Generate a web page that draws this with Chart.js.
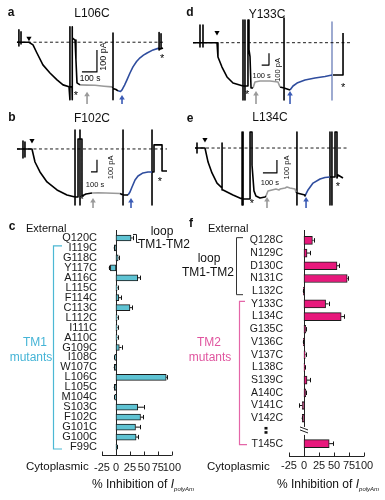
<!DOCTYPE html>
<html><head><meta charset="utf-8">
<script src="https://cdn.jsdelivr.net/npm/chart.js@4.4.1/dist/chart.umd.min.js"></script>
<style>
html,body{margin:0;padding:0;background:#fff;}
body{position:relative;width:385px;height:500px;overflow:hidden;font-family:"Liberation Sans",Arial,Helvetica,sans-serif;color:#111;}
canvas{position:absolute;}
.t{position:absolute;white-space:nowrap;line-height:1;transform:translate(-50%,-50%);}
.l{position:absolute;white-space:nowrap;line-height:1;transform:translateY(-50%);}
.pl{font-weight:bold;font-size:12px;}
.ti{font-size:12px;}
</style></head><body>
<canvas id="ca" width="190" height="104" style="left:0;top:0"></canvas>
<canvas id="cb" width="190" height="108" style="left:0;top:100px"></canvas>
<canvas id="cd" width="195" height="104" style="left:190px;top:0"></canvas>
<canvas id="ce" width="195" height="108" style="left:190px;top:100px"></canvas>
<canvas id="cc" width="190" height="295" style="left:0;top:205px"></canvas>
<canvas id="cf" width="195" height="295" style="left:190px;top:205px"></canvas>

<div class="t pl" style="left:11px;top:12px">a</div>
<div class="t ti" style="left:92px;top:13px">L106C</div>
<div class="t pl" style="left:190px;top:12px">d</div>
<div class="t ti" style="left:267px;top:14px">Y133C</div>
<div class="t pl" style="left:12px;top:117px">b</div>
<div class="t ti" style="left:92px;top:118px">F102C</div>
<div class="t pl" style="left:190px;top:118px">e</div>
<div class="t ti" style="left:270px;top:117px">L134C</div>

<div class="t pl" style="left:12px;top:226px">c</div>
<div class="l" style="left:26px;top:228px;font-size:11px">External</div>
<div class="t" style="left:162px;top:231px;font-size:12px">loop</div>
<div class="t" style="left:164px;top:244px;font-size:12px">TM1-TM2</div>
<div class="t" style="left:35px;top:342px;font-size:12px;color:#45b4d6">TM1</div>
<div class="t" style="left:31px;top:357px;font-size:12px;color:#45b4d6">mutants</div>
<div class="l" style="left:26px;top:467px;font-size:11.5px">Cytoplasmic</div>
<div class="l" style="left:92px;top:485px;font-size:12px">% Inhibition of <i>I</i><sub style="font-size:6px;font-style:italic;vertical-align:-3px">polyAm</sub></div>

<div class="t pl" style="left:191px;top:223px">f</div>
<div class="l" style="left:208px;top:228px;font-size:11px">External</div>
<div class="t" style="left:209px;top:258px;font-size:12px">loop</div>
<div class="t" style="left:208px;top:272px;font-size:12px">TM1-TM2</div>
<div class="t" style="left:209px;top:342px;font-size:12px;color:#e0559f">TM2</div>
<div class="t" style="left:210px;top:357px;font-size:12px;color:#e0559f">mutants</div>
<div class="l" style="left:207px;top:467px;font-size:11.5px">Cytoplasmic</div>
<div class="l" style="left:277px;top:485px;font-size:12px">% Inhibition of <i>I</i><sub style="font-size:6px;font-style:italic;vertical-align:-3px">polyAm</sub></div>

<script>
// ---------- Current traces (time in s, current in pA) ----------
// Panel a: L106C
const aBaseline = [[0,0],[973,0]];
const aScaleBar = [[433,-135],[533,-135],[533,-35]];
const aBlackStart = [[0,0],[13,0],[13,56],[13,-17],[13,0],[27,0],[27,47],[27,-8],[27,0],[80,0],[107,-12],[133,-49],[173,-103],[220,-140],[267,-171],[307,-194],[347,-203],[353,-203],[353,70],[353,-262],[353,-203],[367,-203],[367,70],[367,-262],[367,20],[373,20],[387,10],[393,-80],[400,-185],[420,-194]];
const aGray = [[420,-194],[470,-195],[520,-196],[580,-200],[633,-203]];
const aBlackMid = [[633,-203],[640,-206],[640,42],[640,-262],[640,-210],[660,-215],[673,-221]];
const aBlue = [[673,-221],[690,-224],[700,-217],[717,-195],[733,-171],[753,-140],[773,-112],[797,-88],[820,-71],[843,-59],[867,-49],[907,-35],[940,-28]];
const aBlackEnd = [[940,-28],[947,-28],[947,44],[947,-35],[960,-28],[960,38],[960,-30],[973,-26]];

// Panel b: F102C
const bBaseline = [[0,0],[2500,0]];
const bScaleBar = [[1233,-187],[1333,-187],[1333,-87]];
const bBlackStart = [[0,0],[100,0],[100,65],[100,-73],[100,0],[133,0],[133,57],[133,-65],[133,0],[250,0],[300,-106],[383,-187],[500,-268],[667,-333],[833,-374],[967,-390],[967,154],[967,-455],[967,-390],[1017,-390],[1017,81],[1050,81],[1050,154],[1050,-455],[1050,81],[1083,81],[1083,-382],[1150,-366],[1250,-358]];
const bGray = [[1250,-358],[1350,-356],[1483,-358],[1600,-360],[1717,-362]];
const bBlackMid = [[1717,-362],[1767,-374],[1767,154],[1767,-455],[1767,-374],[1850,-374]];
const bBlue = [[1850,-374],[1883,-350],[1917,-309],[1967,-252],[2017,-220],[2100,-195],[2183,-187],[2250,-187]];
const bBlackEnd = [[2250,-187],[2250,154],[2250,-455],[2250,-187],[2283,-187],[2283,33],[2417,33],[2417,-179],[2500,-179]];

// Panel d: Y133C
const dBaseline = [[0,0],[2151,0]];
const dScaleBar = [[941,-191],[1041,-191],[1041,-91]];
const dBlackStart = [[0,0],[96,0],[96,151],[96,-37],[96,0],[137,0],[137,151],[137,-37],[137,0],[329,0],[342,-122],[397,-208],[466,-293],[548,-345],[685,-370],[685,194],[685,-490],[685,-370],[712,-370],[712,194],[712,-490],[712,-370],[753,-370],[753,194],[767,194],[767,-60],[781,-120],[795,-387],[822,-387]];
const dGray = [[822,-387],[849,-336],[918,-327],[1055,-327],[1164,-336],[1192,-379]];
const dBlackMid = [[1192,-379],[1247,-387],[1247,211],[1247,-490],[1247,-387],[1329,-405]];
const dBlue = [[1329,-405],[1370,-370],[1425,-345],[1534,-319],[1671,-302],[1808,-289],[1904,-276]];
const dBlueMark = [[1904,177],[1904,-490]];
const dBlackEnd = [[1918,-276],[2055,-276],[2055,83]];

// Panel e: L134C
const eBaseline = [[0,0],[1085,0]];
const eScaleBar = [[485,-192],[585,-192],[585,-92]];
const eBlackStart = [[0,0],[14,0],[14,38],[14,-38],[14,0],[71,0],[93,-108],[121,-192],[157,-270],[193,-308],[193,38],[193,-323],[200,-323],[271,-362],[336,-393],[336,123],[336,-439],[336,-393],[343,-393],[343,123],[343,-439],[343,-393],[393,-393],[393,123],[407,123],[407,-131],[421,-330],[435,-370],[464,-385],[500,-377],[507,-370]];
const eGray = [[507,-370],[521,-331],[550,-323],[578,-316],[600,-323],[607,-316],[643,-308],[657,-300],[678,-308],[714,-316],[721,-339]];
const eBlackMid = [[721,-339],[728,-347],[728,123],[728,-439],[728,-347],[785,-362],[785,-370]];
const eBlue = [[785,-370],[807,-323],[843,-270],[893,-239],[928,-227],[964,-223]];
const eBlackEnd = [[964,-223],[964,123],[964,-439],[964,-223],[978,-223],[978,123],[978,-439],[978,-223],[1000,-223],[1000,123],[1014,123],[1014,-231],[1021,-208],[1057,-231]];

// ---------- Bar charts: % inhibition of I polyAm ----------
const tm1Labels = ['Q120C','I119C','G118C','Y117C','A116C','L115C','F114C','C113C','L112C','I111C','A110C','G109C','I108C','W107C','L106C','L105C','M104C','S103C','F102C','G101C','G100C','F99C'];
const tm1Inhibition = [27,-3,4,-10,39,2,5,25,2,2,2,6,-2,-3,90,-3,-2,39,44,35,36,1];
const tm1Sem = [3,1,1,3,4,1,4,4,1,1,1,4,1,1,2,1,1,11,5,8,4,1];
const tm2Labels = ['Q128C','N129C','D130C','N131C','L132C','Y133C','L134C','G135C','V136C','V137C','L138C','S139C','A140C','V141C','V142C','','T145C'];
const tm2Inhibition = [14,5,55,72,-1,36,62,3,-1,2,1,5,3,-3,-3,null,42];
const tm2Sem = [2,5,4,1,1,5,5,1,1,1,1,5,1,5,1,null,7];
const xTicks = [-25,0,25,50,75,100];

Chart.defaults.font.family = '"Liberation Sans", Arial, sans-serif';

const BLUE = '#2f4d9e', GRAY = '#9a9a9a';
const xy = a => a.map(p => ({x:p[0], y:p[1]}));

function traceMarks(marks){
  return {id:'traceMarks', afterDatasetsDraw(chart){
    const ctx = chart.ctx, xs = chart.scales.x, ys = chart.scales.y;
    ctx.save();
    marks.forEach(m => {
      const px = xs.getPixelForValue(m.t), py = ys.getPixelForValue(m.i);
      if (m.kind === 'tri') {
        ctx.fillStyle = '#000'; ctx.beginPath();
        ctx.moveTo(px-2.6, py-2); ctx.lineTo(px+2.6, py-2); ctx.lineTo(px, py+2.6); ctx.closePath(); ctx.fill();
      } else if (m.kind === 'star') {
        ctx.fillStyle = '#000'; ctx.font = '11px "Liberation Sans"'; ctx.textAlign = 'center'; ctx.textBaseline = 'middle';
        ctx.fillText('*', px, py + 2);
      } else if (m.kind === 'arrow') {
        const pt = ys.getPixelForValue(m.tail);
        ctx.strokeStyle = m.color; ctx.fillStyle = m.color; ctx.lineWidth = 1.6;
        ctx.beginPath(); ctx.moveTo(px, pt); ctx.lineTo(px, py + 3); ctx.stroke();
        ctx.beginPath(); ctx.moveTo(px, py); ctx.lineTo(px-2.8, py+4.5); ctx.lineTo(px+2.8, py+4.5); ctx.closePath(); ctx.fill();
      } else if (m.kind === 'text') {
        ctx.fillStyle = '#111'; ctx.font = m.size + 'px "Liberation Sans"'; ctx.textAlign = 'center'; ctx.textBaseline = 'middle';
        if (m.rot) { ctx.save(); ctx.translate(px, py); ctx.rotate(-Math.PI/2); ctx.fillText(m.text, 0, 0); ctx.restore(); }
        else ctx.fillText(m.text, px, py);
      }
    });
    ctx.restore();
  }};
}

function traceChart(id, xr, yr, series, marks){
  const datasets = series.map(s => ({
    data: xy(s.d), borderColor: s.c, borderWidth: s.w || 1.6, borderDash: s.dash || [],
    showLine: true, pointRadius: 0, fill: false, tension: 0, borderJoinStyle: 'round'
  }));
  new Chart(document.getElementById(id), {
    type: 'scatter',
    data: {datasets},
    options: {
      responsive: false, animation: false, events: [],
      layout: {padding: 0},
      plugins: {legend: {display: false}, tooltip: {enabled: false}},
      scales: {
        x: {type: 'linear', display: false, min: xr[0], max: xr[1]},
        y: {type: 'linear', display: false, min: yr[0], max: yr[1]}
      }
    },
    plugins: [traceMarks(marks)]
  });
}

traceChart('ca', [-113,1153], [-281,192], [
  {d: aBaseline, c: '#000', w: 0.9, dash: [3,2.5]},
  {d: aScaleBar, c: '#000', w: 1.2},
  {d: aBlackStart, c: '#000'}, {d: aGray, c: GRAY}, {d: aBlackMid, c: '#000'},
  {d: aBlue, c: BLUE}, {d: aBlackEnd, c: '#000'}
], [
  {kind:'tri', t:80, i:16},
  {kind:'star', t:393, i:-235}, {kind:'star', t:967, i:-67},
  {kind:'arrow', t:467, i:-225, tail:-285, color:'#9a9a9a'},
  {kind:'arrow', t:700, i:-240, tail:-285, color:'#3b5bb5'},
  {kind:'text', t:487, i:-164, text:'100 s', size:8.5},
  {kind:'text', t:577, i:-65, text:'100 pA', size:9, rot:true}
]);

traceChart('cb', [-283,2883], [-480,398], [
  {d: bBaseline, c: '#000', w: 0.9, dash: [3,2.5]},
  {d: bScaleBar, c: '#000', w: 1.2},
  {d: bBlackStart, c: '#000'}, {d: bGray, c: GRAY}, {d: bBlackMid, c: '#000'},
  {d: bBlue, c: BLUE}, {d: bBlackEnd, c: '#000'}
], [
  {kind:'tri', t:250, i:65},
  {kind:'star', t:1083, i:-398}, {kind:'star', t:2383, i:-252},
  {kind:'arrow', t:1267, i:-398, tail:-480, color:'#9a9a9a'},
  {kind:'arrow', t:1900, i:-398, tail:-480, color:'#3b5bb5'},
  {kind:'text', t:1300, i:-293, text:'100 s', size:7.5},
  {kind:'text', t:1567, i:-150, text:'100 pA', size:7.5, rot:true}
]);

traceChart('cd', [-41,2630], [-524,365], [
  {d: dBaseline, c: '#000', w: 0.9, dash: [3,2.5]},
  {d: dScaleBar, c: '#000', w: 1.2},
  {d: dBlackStart, c: '#000'}, {d: dGray, c: GRAY}, {d: dBlackMid, c: '#000'},
  {d: dBlue, c: BLUE}, {d: dBlueMark, c: '#7487bd', w: 1.4}, {d: dBlackEnd, c: '#000'}
], [
  {kind:'tri', t:329, i:83},
  {kind:'star', t:740, i:-430}, {kind:'star', t:2055, i:-370},
  {kind:'arrow', t:863, i:-413, tail:-524, color:'#9a9a9a'},
  {kind:'arrow', t:1329, i:-413, tail:-524, color:'#3b5bb5'},
  {kind:'text', t:941, i:-287, text:'100 s', size:7.5},
  {kind:'text', t:1165, i:-233, text:'100 pA', size:7.5, rot:true}
]);

traceChart('ce', [-36,1357], [-462,370], [
  {d: eBaseline, c: '#000', w: 0.9, dash: [3,2.5]},
  {d: eScaleBar, c: '#000', w: 1.2},
  {d: eBlackStart, c: '#000'}, {d: eGray, c: GRAY}, {d: eBlackMid, c: '#000'},
  {d: eBlue, c: BLUE}, {d: eBlackEnd, c: '#000'}
], [
  {kind:'tri', t:71, i:62},
  {kind:'star', t:407, i:-416}, {kind:'star', t:1021, i:-285},
  {kind:'arrow', t:514, i:-377, tail:-462, color:'#9a9a9a'},
  {kind:'arrow', t:793, i:-377, tail:-462, color:'#3b5bb5'},
  {kind:'text', t:535, i:-270, text:'100 s', size:7.5},
  {kind:'text', t:657, i:-150, text:'100 pA', size:7.5, rot:true}
]);

// ---------- bar chart extras: error bars, zero line, axis, brackets ----------
function barExtras(cfg){
  const px = v => Math.round(v) + 0.5;
  return {
    id: 'barExtras',
    beforeDatasetsDraw(chart){
      const ctx = chart.ctx, xs = chart.scales.x, ys = chart.scales.y;
      const zx = px(xs.getPixelForValue(0));
      const axisY = cfg.axisY - cfg.top;
      ctx.save();
      ctx.strokeStyle = '#222'; ctx.lineWidth = 1;
      ctx.beginPath();
      if (cfg.breakIndex != null) {
        const yd = ys.getPixelForValue(cfg.breakIndex);
        ctx.moveTo(zx, cfg.zeroTop - cfg.top); ctx.lineTo(zx, yd - 4);
        ctx.moveTo(zx, yd + 4); ctx.lineTo(zx, axisY);
      } else {
        ctx.moveTo(zx, cfg.zeroTop - cfg.top); ctx.lineTo(zx, axisY);
      }
      ctx.stroke();
      // bottom axis with upward ticks
      ctx.beginPath();
      ctx.moveTo(xs.getPixelForValue(xTicks[0]), axisY + 0.5);
      ctx.lineTo(xs.getPixelForValue(xTicks[xTicks.length-1]), axisY + 0.5);
      xTicks.forEach(v => { const x = px(xs.getPixelForValue(v)); ctx.moveTo(x, axisY + 0.5); ctx.lineTo(x, axisY - 3.5); });
      ctx.stroke();
      ctx.restore();
    },
    afterDatasetsDraw(chart){
      const ctx = chart.ctx, xs = chart.scales.x, ys = chart.scales.y;
      ctx.save();
      ctx.strokeStyle = '#111'; ctx.lineWidth = 1;
      cfg.values.forEach((v, i) => {
        if (v == null) return;
        const e = cfg.sems[i], dir = v < 0 ? -1 : 1;
        const x0 = xs.getPixelForValue(v), x1 = xs.getPixelForValue(v + dir * e), y = ys.getPixelForValue(i);
        ctx.beginPath(); ctx.moveTo(x0, y); ctx.lineTo(x1, y);
        ctx.moveTo(px(x1), y - 2.2); ctx.lineTo(px(x1), y + 2.2); ctx.stroke();
      });
      // brackets
      cfg.brackets.forEach(b => {
        const yt = ys.getPixelForValue(b.from) + b.offTop, yb = ys.getPixelForValue(b.to) + b.offBot;
        const x = px(b.x - cfg.left);
        ctx.strokeStyle = b.color; ctx.lineWidth = b.lw || 1.2;
        ctx.beginPath();
        ctx.moveTo(b.topTo - cfg.left, yt); ctx.lineTo(x, yt); ctx.lineTo(x, yb); ctx.lineTo(b.botTo - cfg.left, yb);
        ctx.stroke();
      });
      // axis break + dots
      if (cfg.breakIndex != null) {
        const yd = ys.getPixelForValue(cfg.breakIndex);
        const zx = xs.getPixelForValue(0);
        ctx.strokeStyle = '#222'; ctx.lineWidth = 1;
        ctx.beginPath();
        ctx.moveTo(zx - 4, yd - 4); ctx.lineTo(zx + 4, yd - 1);
        ctx.moveTo(zx - 4, yd - 1); ctx.lineTo(zx + 4, yd + 2);
        ctx.stroke();
        ctx.fillStyle = '#111';
        const dx = cfg.dotsX - cfg.left;
        ctx.fillRect(dx - 1.5, yd - 4, 3, 2.6);
        ctx.fillRect(dx - 1.5, yd + 0.2, 3, 2.6);
      }
      ctx.restore();
    }
  };
}

function barChart(id, labels, values, sems, color, o){
  new Chart(document.getElementById(id), {
    type: 'bar',
    data: {labels, datasets: [{data: values, backgroundColor: color, borderColor: '#1a1a1a', borderWidth: 1, borderSkipped: false, barThickness: o.barThickness}]},
    options: {
      indexAxis: 'y', responsive: false, animation: false, events: [],
      layout: {padding: {top: o.padTop, right: o.padRight, left: 0, bottom: 0}},
      plugins: {legend: {display: false}, tooltip: {enabled: false}},
      scales: {
        y: {type: 'category', grid: {display: false, drawTicks: false}, border: {display: false},
            ticks: {autoSkip: false, padding: o.labelPad, color: '#1a1a1a', font: {size: o.labelSize}},
            afterFit(s){ s.width = o.yWidth; }},
        x: {type: 'linear', min: xTicks[0], max: xTicks[xTicks.length-1],
            afterBuildTicks(s){ s.ticks = xTicks.map(v => ({value: v})); },
            grid: {display: false, drawTicks: false}, border: {display: false},
            ticks: {autoSkip: false, maxRotation: 0, minRotation: 0, padding: o.tickPad, color: '#1a1a1a', font: {size: 11}},
            afterFit(s){ s.height = o.xHeight; }}
      }
    },
    plugins: [barExtras(o.extras)]
  });
}

barChart('cc', tm1Labels, tm1Inhibition, tm1Sem, '#5ec3d3', {
  barThickness: 6, padTop: 28, padRight: 13, yWidth: 102, xHeight: 48, labelPad: 5, labelSize: 11, tickPad: 9,
  extras: {left: 0, top: 205, values: tm1Inhibition, sems: tm1Sem, zeroTop: 230, axisY: 455, breakIndex: null,
    brackets: [
      {from: 1, to: 21, offTop: -2, offBot: 2, x: 53, topTo: 62, botTo: 62, color: '#4cb8d4'},
      {from: 0, to: 0, offTop: -3.5, offBot: 4.5, x: 135.5, topTo: 133, botTo: 139.5, color: '#222', lw: 1}
    ]}
});

barChart('cf', tm2Labels, tm2Inhibition, tm2Sem, '#e8187c', {
  barThickness: 8, padTop: 29, padRight: 21, yWidth: 99, xHeight: 50, labelPad: 6, labelSize: 10.5, tickPad: 9,
  extras: {left: 190, top: 205, values: tm2Inhibition, sems: tm2Sem, zeroTop: 230, axisY: 456, breakIndex: 15, dotsX: 266,
    brackets: [
      {from: 0, to: 4, offTop: -2.7, offBot: 3.5, x: 235.7, topTo: 243, botTo: 243, color: '#333', lw: 1},
      {from: 5, to: 16, offTop: -2.6, offBot: 1, x: 239, topTo: 245, botTo: 247, color: '#e466a8'}
    ]}
});
</script>
</body></html>
